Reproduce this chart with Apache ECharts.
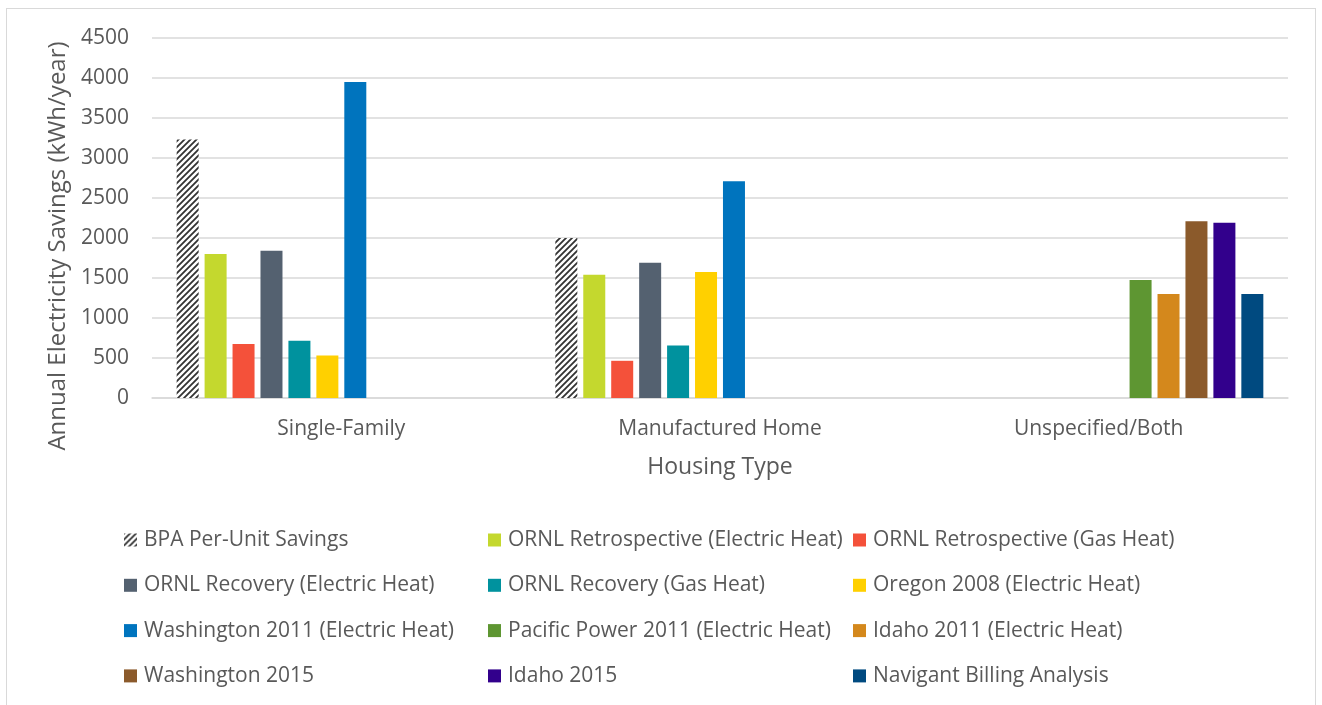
<!DOCTYPE html>
<html><head><meta charset="utf-8">
<script src="https://cdn.jsdelivr.net/npm/echarts@6/dist/echarts.min.js"></script>
<style>html,body{margin:0;padding:0;background:#fff}#c{width:1322px;height:705px}
#frame{position:absolute;left:6px;top:8px;width:1310px;height:700px;border:1px solid #d9d9d9;box-sizing:border-box;pointer-events:none}</style>
</head><body><div id="c"></div><div id="frame"></div>
<script>
const categories = ['Single-Family', 'Manufactured Home', 'Unspecified/Both'];
const seriesNames = [
  'BPA Per-Unit Savings', 'ORNL Retrospective (Electric Heat)', 'ORNL Retrospective (Gas Heat)',
  'ORNL Recovery (Electric Heat)', 'ORNL Recovery (Gas Heat)', 'Oregon 2008 (Electric Heat)',
  'Washington 2011 (Electric Heat)', 'Pacific Power 2011 (Electric Heat)', 'Idaho 2011 (Electric Heat)',
  'Washington 2015', 'Idaho 2015', 'Navigant Billing Analysis'
];
const bpa = [3230, 2000, null];
const ornlRetroElec = [1800, 1540, null];
const ornlRetroGas = [675, 465, null];
const ornlRecElec = [1840, 1690, null];
const ornlRecGas = [715, 655, null];
const oregon2008 = [530, 1575, null];
const washington2011 = [3950, 2710, null];
const pacific2011 = [null, null, 1475];
const idaho2011 = [null, null, 1300];
const washington2015 = [null, null, 2210];
const idaho2015 = [null, null, 2190];
const navigant = [null, null, 1300];
const yTicks = [0, 500, 1000, 1500, 2000, 2500, 3000, 3500, 4000, 4500];

const seriesValues = [bpa, ornlRetroElec, ornlRetroGas, ornlRecElec, ornlRecGas, oregon2008,
  washington2011, pacific2011, idaho2011, washington2015, idaho2015, navigant];
const colors = [null, '#c4d82e', '#f4513a', '#546170', '#00929e', '#ffd000',
  '#0074be', '#5e9632', '#d4881c', '#8b5a2b', '#32008c', '#004a80'];

// hatch pattern
const pc = document.createElement('canvas');
pc.width = 6; pc.height = 6;
const g = pc.getContext('2d');
g.fillStyle = '#fff'; g.fillRect(0,0,6,6);
g.strokeStyle = '#333'; g.lineWidth = 1.8;
g.beginPath();
g.moveTo(-1,7); g.lineTo(7,-1);
g.moveTo(-4,4); g.lineTo(4,-4);
g.moveTo(2,10); g.lineTo(10,2);
g.stroke();
const hatch = {image: pc, repeat: 'repeat'};

const font = 'Open Sans, Liberation Sans, sans-serif';
const series = seriesNames.map((n, i) => ({
  name: n, type: 'bar', data: seriesValues[i],
  barWidth: 22, barGap: '27%', barCategoryGap: '11%',
  itemStyle: {color: i === 0 ? hatch : colors[i]}
}));

const cols = [[0,3,6,9],[1,4,7,10],[2,5,8,11]];
const lefts = [119, 483, 848];
const legends = cols.map((c, k) => ({
  orient: 'vertical', left: lefts[k], top: 524, itemGap: 23.3,
  itemWidth: 13, itemHeight: 13, icon: 'rect',
  data: c.map(i => seriesNames[i]),
  textStyle: {fontSize: 21, lineHeight: 22, color: '#595959', fontFamily: font, padding: [0,0,0,2]},
  selectedMode: false
}));

const chart = echarts.init(document.getElementById('c'));
chart.setOption({
  animation: false,
  grid: {left: 152, right: 34, top: 38, bottom: 307},
  legend: legends,
  xAxis: {
    type: 'category', data: categories,
    name: 'Housing Type', nameLocation: 'middle', nameGap: 58,
    nameTextStyle: {fontSize: 23, color: '#595959', fontFamily: font},
    axisLine: {lineStyle: {color: '#d9d9d9', width: 1.5}},
    axisTick: {show: false},
    axisLabel: {fontSize: 21, color: '#595959', fontFamily: font, margin: 21}
  },
  yAxis: {
    type: 'value', min: 0, max: 4500, interval: 500,
    name: 'Annual Electricity Savings (kWh/year)', nameLocation: 'middle', nameGap: 80,
    nameTextStyle: {fontSize: 24, color: '#595959', fontFamily: font, padding: [0, 56, 0, 0]},
    axisLine: {show: false}, axisTick: {show: false},
    axisLabel: {fontSize: 21, color: '#595959', fontFamily: font, margin: 23,
      formatter: v => yTicks.includes(v) ? String(v) : ''},
    splitLine: {lineStyle: {color: '#d9d9d9', width: 1.5}}
  },
  series: series
});
</script></body></html>
